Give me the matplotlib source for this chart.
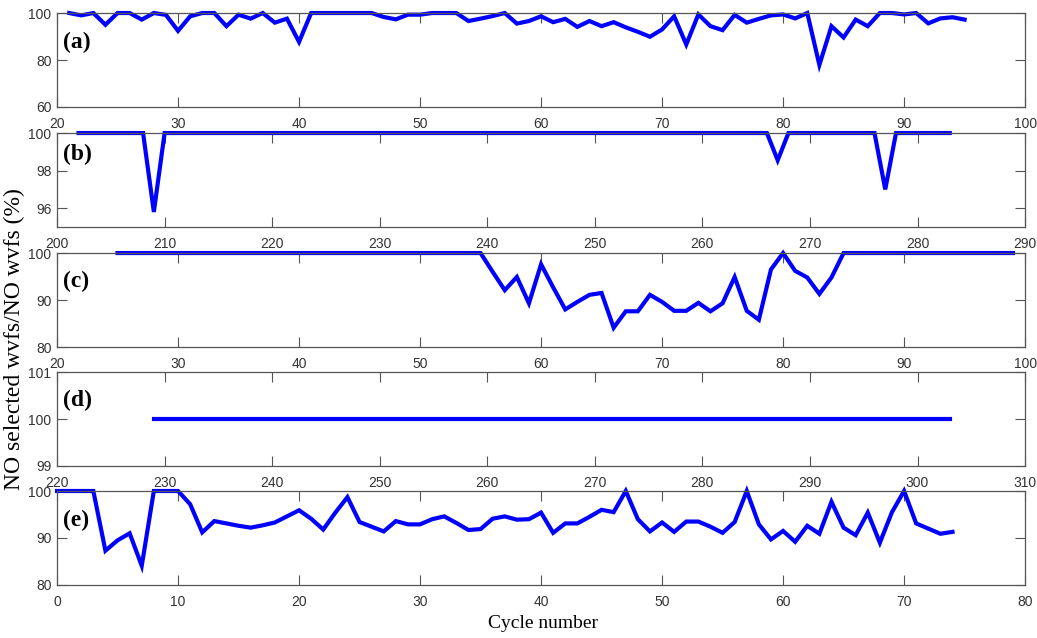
import numpy as np
import matplotlib
matplotlib.use('Agg')
import matplotlib.pyplot as plt

plt.rcParams['font.family'] = ['Liberation Sans Narrow', 'Liberation Sans', 'DejaVu Sans']

# panel (a)
xa = list(range(21, 96))
ya = [100, 99, 100, 95, 100, 100, 97.2, 100, 99.2, 92.4,
      98.6, 100, 100, 94.4, 99.3, 97.6, 100, 95.9, 97.6, 87.7,
      100, 100, 100, 100, 100, 100, 98.3, 97.3, 99.3, 99.3,
      100, 100, 100, 96.6, 97.6, 98.7, 100, 95.5, 96.6, 98.6,
      96.1, 97.5, 94.1, 96.6, 94.4, 96.1, 93.9, 92.0, 89.9, 93.0,
      98.6, 86.6, 99.4, 94.4, 92.7, 99.2, 95.9, 97.5, 99.0, 99.4,
      97.7, 100, 77.9, 94.4, 89.6, 97.2, 94.4, 100, 100, 99.4,
      100, 95.6, 97.7, 98.2, 97.2]

# panel (b)
xb = list(range(202, 284))
yb = [100] * len(xb)
for cyc, v in [(209, 95.8), (267, 98.55), (277, 97.0)]:
    yb[xb.index(cyc)] = v

# panel (c)
xc = list(range(25, 100))
yc = [100] * 31 + [96, 92.1, 94.9, 89.3,
      97.6, 92.7, 88.0, 89.6, 91.1, 91.5, 84.1, 87.6, 87.6, 91.1,
      89.6, 87.7, 87.7, 89.4, 87.6, 89.3, 94.9, 87.7, 85.8, 96.5,
      100, 96.2, 94.8, 91.3, 94.8] + [100] * 15

# panel (d)
xd = list(range(229, 304))
yd = [100] * len(xd)

# panel (e)
xe = list(range(0, 75))
ye = [100, 100, 100, 100, 87.3, 89.5, 91.0, 84.1, 100, 100,
      100, 97.2, 91.2, 93.6, 93.1, 92.6, 92.2, 92.7, 93.3, 94.6,
      95.9, 94.1, 91.8, 95.4, 98.7, 93.4, 92.4, 91.4, 93.6, 92.9,
      92.9, 94.0, 94.6, 93.2, 91.7, 91.9, 94.1, 94.6, 93.9, 94.0,
      95.4, 91.1, 93.1, 93.1, 94.5, 96.0, 95.5, 100, 94.0, 91.4,
      93.3, 91.3, 93.5, 93.5, 92.4, 91.1, 93.4, 100, 92.9, 89.7,
      91.5, 89.2, 92.6, 90.9, 97.7, 92.2, 90.6, 95.4, 89.0, 95.5,
      100, 93.1, 92.0, 90.9, 91.3]

panels = [
    (xa, ya, (20, 100), (60, 100), [60, 80, 100], '(a)', 0.69),
    (xb, yb, (200, 290), (95, 100), [96, 98, 100], '(b)', 0.77),
    (xc, yc, (20, 100), (80, 100), [80, 90, 100], '(c)', 0.70),
    (xd, yd, (220, 310), (99, 101), [99, 100, 101], '(d)', 0.70),
    (xe, ye, (0, 80), (80, 100), [80, 90, 100], '(e)', 0.69),
]
bottoms = [0.8323, 0.6442, 0.4561, 0.2696, 0.0831]

fig = plt.figure(figsize=(10.37, 6.38), dpi=100)
edge = '#555555'
for (x, y, xl, yl, yt, lab, ly), b in zip(panels, bottoms):
    ax = fig.add_axes([0.055, b, 0.9335, 0.1473])
    ax.plot(x, y, color='#0000ff', lw=3, solid_joinstyle='miter', clip_on=False)
    ax.set_xlim(*xl)
    ax.set_ylim(*yl)
    ax.set_yticks(yt)
    ax.set_xticks(np.arange(xl[0], xl[1] + 1, 10))
    ax.tick_params(direction='in', length=7, width=0.8, color=edge,
                   labelcolor='#333333', labelsize=10, top=True, right=True)
    ax.tick_params(axis='x', pad=7.5)
    ax.tick_params(axis='y', pad=4)
    for s in ax.spines.values():
        s.set_color(edge)
        s.set_linewidth(0.9)
    ax.text(0.006, ly, lab, transform=ax.transAxes, fontsize=17,
            fontweight='bold', family='Liberation Serif', va='center', ha='left')

fig.text(0.0135, 0.469, 'NO selected wvfs/NO wvfs (%)', rotation=90,
         family='Liberation Serif', fontsize=17, va='center', ha='center')
fig.text(0.524, 0.022, 'Cycle number', family='Liberation Serif',
         fontsize=14, va='center', ha='center')

fig.savefig('out.png', dpi=100)
